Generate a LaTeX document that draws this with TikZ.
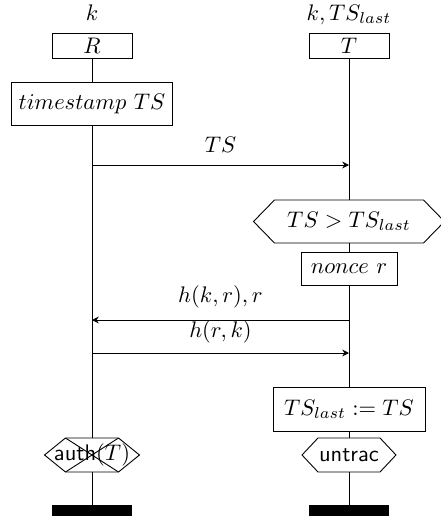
\documentclass[tikz,border=0pt]{standalone}
\usetikzlibrary{arrows.meta,calc}
\newcommand\hexshape[4]{%
  \draw ($(#1)+(-#2,-#3)$) -- ($(#1)+(#2,-#3)$) -- ($(#1)+(#2+#4,0)$) -- ($(#1)+(#2,#3)$) -- ($(#1)+(-#2,#3)$) -- ($(#1)+(-#2-#4,0)$) -- cycle;}
\begin{document}
\begin{tikzpicture}[x=0.444pt,y=-0.444pt,
  box/.style={draw, rectangle, inner sep=0pt, fill=white},
  hexnode/.style={rectangle, inner sep=0pt, minimum width=10pt},
  lbl/.style={inner sep=0pt},
  msg/.style={-{Stealth[length=3pt,width=3pt]}},
  endbar/.style={fill=black, inner sep=0pt, minimum width=35.5pt, minimum height=4.9pt}]
\useasboundingbox (0,0) rectangle (441,516);
% heads
\node[lbl,anchor=base] (kR) at (92,20) {$k$};
\node[lbl,anchor=base] (kT) at (349,20) {$k, TS_{last}$};
\node[box,minimum width=35.5pt,minimum height=11.1pt] (R) at (92,45.5) {$R$};
\node[box,minimum width=35.5pt,minimum height=11.1pt] (T) at (349,45.5) {$T$};
% R side
\node[box,minimum width=71.5pt,minimum height=19.1pt] (ts) at (92,103.5) {$timestamp\ TS$};
\node[hexnode,minimum height=15.1pt] (auth) at (92,455) {\textsf{auth}$(T)$};
\node[endbar] (barR) at (92,510.5) {};
% T side
\node[hexnode,minimum height=19.1pt] (chk) at (349,221.5) {$TS > TS_{last}$};
\node[box,minimum width=42.6pt,minimum height=14.7pt] (nonce) at (349,268.5) {$nonce\ r$};
\node[box,minimum width=67.5pt,minimum height=19.5pt] (upd) at (349,409) {$TS_{last} := TS$};
\node[hexnode,minimum height=15.1pt] (untrac) at (349,455) {\textsf{untrac}};
\node[endbar] (barT) at (349,510.5) {};
% hexagons
\hexshape{chk}{74.5}{21.5}{21}
\hexshape{untrac}{31}{17}{16}
\hexshape{auth}{26.5}{17}{21}
\draw ($(auth)+(-26.5,-17)$) -- ($(auth)+(26.5,17)$);
\draw ($(auth)+(26.5,-17)$) -- ($(auth)+(-26.5,17)$);
% lifelines
\draw (R) -- (ts);
\draw (ts) -- (auth);
\draw (auth) -- (barR);
\draw (T) -- (chk);
\draw (chk) -- (nonce);
\draw (nonce) -- (upd);
\draw (upd) -- (untrac);
\draw (untrac) -- (barT);
% messages
\coordinate (m1R) at (92,165);
\coordinate (m1T) at (349,165);
\coordinate (m2R) at (92,320);
\coordinate (m2T) at (349,320);
\coordinate (m3R) at (92,353);
\coordinate (m3T) at (349,353);
\draw[msg] (m1R) -- node[lbl,midway,above=5.5pt] {$TS$} (m1T);
\draw[msg] (m2T) -- node[lbl,midway,above=5.2pt] {$h(k,r),r$} (m2R);
\draw[msg] (m3R) -- node[lbl,midway,above=4.2pt] {$h(r,k)$} (m3T);
\end{tikzpicture}
\end{document}
